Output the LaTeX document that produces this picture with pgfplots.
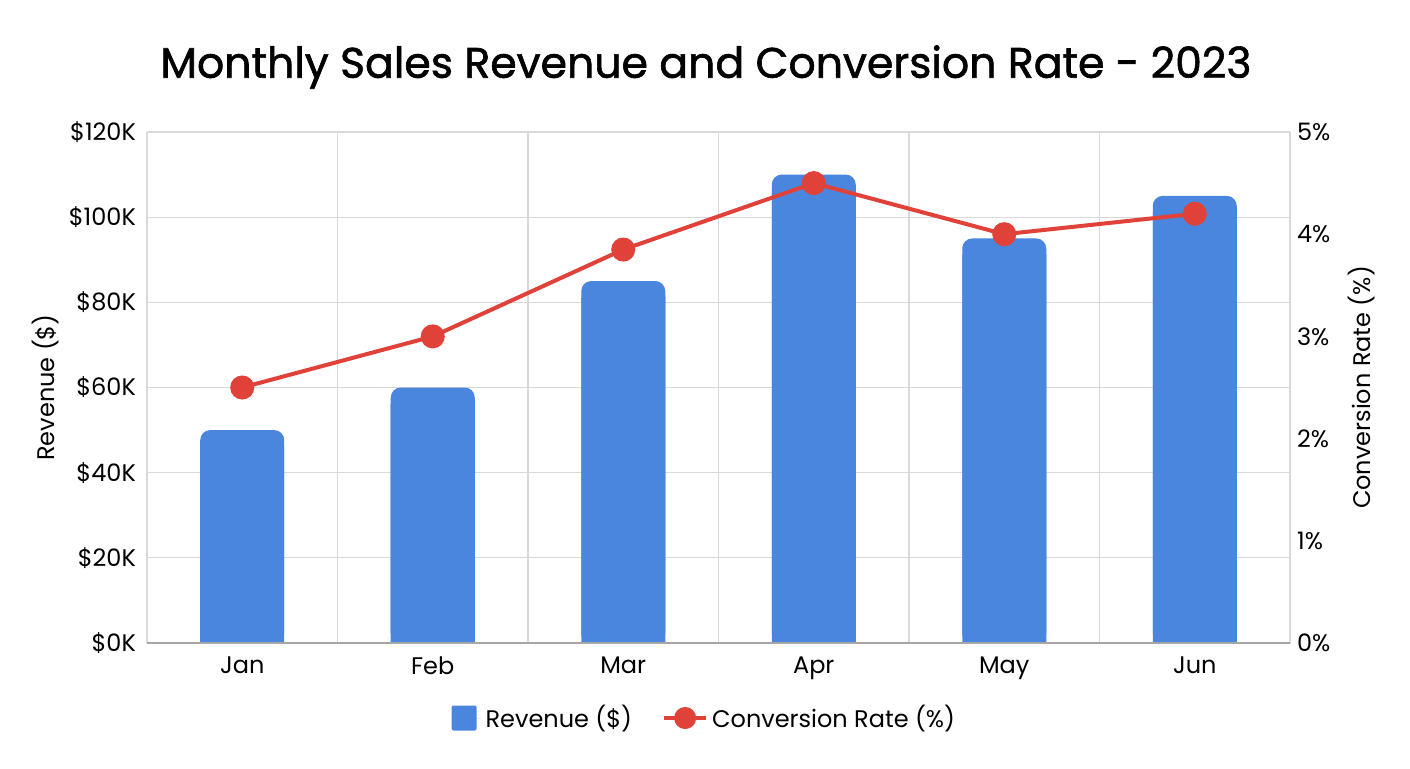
\documentclass[border=0pt]{standalone}
\usepackage{pgfplots}
\pgfplotsset{compat=1.18}
\usepackage{pgfplotstable}
\usepackage{fontspec}
\setmainfont{Poppins}
\newfontfamily\titlefont{Poppins}[FakeBold=1.4]

\definecolor{barblue}{HTML}{4A86DE}
\definecolor{linered}{HTML}{E0423A}
\definecolor{gridgray}{HTML}{D9D9D9}
\definecolor{basegray}{HTML}{A6A6A6}

\pgfplotstableread{
x month revenue rate
0 Jan 50000 2.5
1 Feb 60000 3.0
2 Mar 85000 3.85
3 Apr 110000 4.5
4 May 95000 4.0
5 Jun 105000 4.2
}\salesdata

\begin{document}
\begin{tikzpicture}
\pgfplotsset{
  common/.style={
    width=571.5pt, height=255.5pt, scale only axis,
    xmin=-0.5, xmax=5.5,
    tick style={draw=none},
    tick label style={font=\fontsize{12}{14}\selectfont, text=black},
    label style={font=\fontsize{12}{14}\selectfont},
  },
}
\begin{axis}[
  common,
  axis line style={draw=gridgray},
  ymin=0, ymax=120000,
  ytick={0,20000,40000,60000,80000,100000,120000},
  yticklabels={\$0K,\$20K,\$40K,\$60K,\$80K,\$100K,\$120K},
  yticklabel style={xshift=-2pt},
  xticklabel style={yshift=-3.5pt},
  scaled y ticks=false,
  xtick=data,
  xticklabels={Jan,Feb,Mar,Apr,May,Jun},
  minor xtick={-0.5,0.5,...,5.5},
  ymajorgrids, xminorgrids,
  grid style={draw=gridgray, line width=0.6pt},
  minor grid style={draw=gridgray, line width=0.6pt},
  ylabel={Revenue (\$)},
  ylabel style={at={(axis description cs:-0.0892,0.5)}, anchor=center},
  title={Monthly Sales Revenue and Conversion Rate - 2023},
  title style={at={(axis description cs:0.489,1.135)}, anchor=center, yshift=-8pt,
    font=\fontsize{21.3}{25}\titlefont},
  legend style={at={(axis description cs:0.4885,-0.1468)}, anchor=center,
    draw=none, fill=none, legend columns=-1,
    font=\fontsize{12}{14}\selectfont,
    /tikz/every even column/.append style={column sep=13pt}},
  legend image code/.code={\fill[barblue, rounded corners=1pt] (0pt,-6.25pt) rectangle (12.5pt,6.25pt);
    \path (0pt,0pt) -- (15pt,0pt);},
]
\addplot[ybar, bar width=42pt, bar shift=0pt, fill=barblue, draw=none,
  rounded corners=5pt] table[x=x, y=revenue] {\salesdata};
\addlegendentry{Revenue (\$)}
\addplot[ybar, bar width=42pt, bar shift=0pt, fill=barblue, draw=none,
  yshift=-8pt, forget plot] table[x=x, y=revenue] {\salesdata};
\addlegendimage{linered, line width=2pt, mark=*, mark size=5pt,
  mark options={fill=linered, draw=linered},
  legend image code/.code={\draw[linered, line width=2pt] (0pt,0pt) -- (21pt,0pt);
    \fill[linered] (10.5pt,0pt) circle (4.5pt);}}
\addlegendentry{Conversion Rate (\%)}
\draw[basegray, line width=0.7pt] (rel axis cs:0,0) -- (rel axis cs:1,0);
\end{axis}
\begin{axis}[
  common,
  axis y line*=right, axis x line=none,
  axis line style={draw=gridgray},
  ymin=0, ymax=5,
  ytick={0,1,2,3,4,5},
  yticklabels={0\%,1\%,2\%,3\%,4\%,5\%},
  ylabel={Conversion Rate (\%)},
  ylabel style={at={(axis description cs:1.063,0.5)}, anchor=center},
]
\addplot[linered, line width=2pt, mark=*, mark size=5pt,
  mark options={fill=linered, draw=linered}] table[x=x, y=rate] {\salesdata};
\end{axis}
\useasboundingbox (current axis.south west) ++(-73.5pt,-62.5pt) rectangle ++(705pt,384pt);
\end{tikzpicture}
\end{document}
